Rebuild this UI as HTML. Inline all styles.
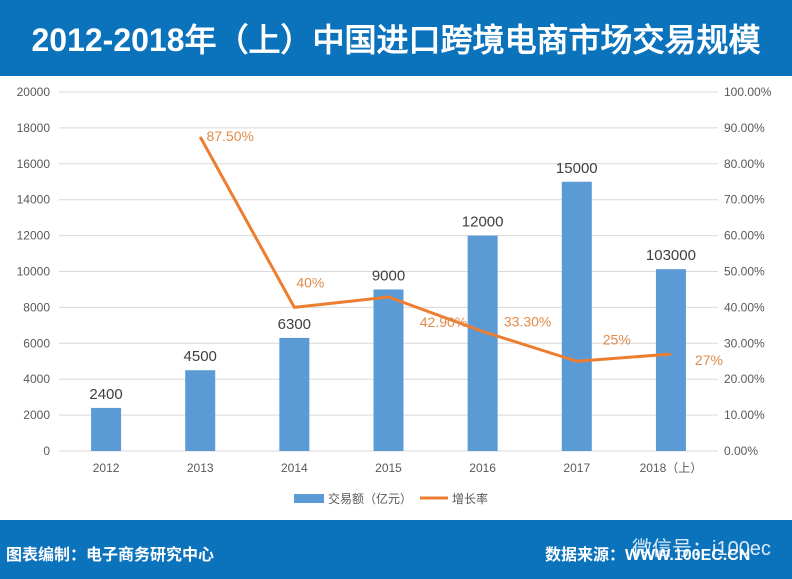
<!DOCTYPE html>
<html><head><meta charset="utf-8"><style>
body{margin:0;width:792px;height:579px;overflow:hidden;background:#fff;font-family:"Liberation Sans","Noto Sans CJK SC",sans-serif}
#hdr{position:absolute;left:0;top:0;width:792px;height:76px;background:#0b72bc}
#ttl{position:absolute;left:0;top:0;width:792px;height:80px;line-height:80px;text-align:center;color:#fff;font-weight:bold;font-size:32px;font-family:"Liberation Sans","WenQuanYi Zen Hei",sans-serif}
#ftr{position:absolute;left:0;top:520px;width:792px;height:59px;background:#0b72bc;color:#fff;font-weight:bold;font-size:16px}
</style></head><body>
<div id="hdr"></div>
<div id="ttl">2012-2018年（上）中国进口跨境电商市场交易规模</div>
<svg id="chart" width="792" height="520" style="position:absolute;left:0;top:0"></svg>
<div id="ftr">
<span style="position:absolute;left:6px;top:21px">图表编制：电子商务研究中心</span>
<span style="position:absolute;left:545px;top:21px">数据来源：WWW.100EC.CN</span>
<span style="position:absolute;left:632px;top:12px;font-weight:normal;font-size:20px;opacity:.85">微信号：i100ec</span>
</div>
<script>
const categories=["2012","2013","2014","2015","2016","2017","2018（上）"];
const amounts=[2400,4500,6300,9000,12000,15000,10130];
const amountLabels=["2400","4500","6300","9000","12000","15000","103000"];
const growth=[null,87.5,40,42.9,33.3,25,27];
const growthLabels=["","87.50%","40%","42.90%","33.30%","25%","27%"];
const leftTicks=[0,2000,4000,6000,8000,10000,12000,14000,16000,18000,20000];
const rightTicks=["0.00%","10.00%","20.00%","30.00%","40.00%","50.00%","60.00%","70.00%","80.00%","90.00%","100.00%"];
const svg=document.getElementById('chart');const NS='http://www.w3.org/2000/svg';
const x0=59,x1=718,y0=451,y1=92;
const band=(x1-x0)/categories.length;
const xc=i=>x0+band*(i+0.5);
const yL=v=>y0-(v/20000)*(y0-y1);
const yR=v=>y0-(v/100)*(y0-y1);
function mk(t,a,txt){const e=document.createElementNS(NS,t);for(const k in a)e.setAttribute(k,a[k]);if(txt!=null)e.textContent=txt;svg.appendChild(e);return e;}
leftTicks.forEach((v,i)=>{
 const g=mk('line',{x1:x0,x2:x1,y1:yL(v),y2:yL(v),stroke:'#d9d9d9','stroke-width':1});
 
 
 const t=mk('text',{x:50,y:yL(v)+4,'text-anchor':'end','font-size':12,fill:'#595959'},String(v));
 
 
 const r=mk('text',{x:724,y:yL(v)+4,'font-size':12,fill:'#595959'},rightTicks[i]);
 
 
});
categories.forEach((c,i)=>{
 const b=mk('rect',{x:xc(i)-15,y:yL(amounts[i]),width:30,height:y0-yL(amounts[i]),fill:'#5b9bd5'});
 
 
 const l=mk('text',{x:xc(i),y:yL(amounts[i])-9,'text-anchor':'middle','font-size':15,fill:'#404040'},amountLabels[i]);
 
 
 const t=mk('text',{x:xc(i),y:472,'text-anchor':'middle','font-size':12,fill:'#595959'},c);
 
 
});
let d='';growth.forEach((g,i)=>{if(g==null)return;d+=(d?'L':'M')+xc(i)+','+yR(g);});
const p=mk('path',{d:d,fill:'none',stroke:'#ed7d31','stroke-width':3,'stroke-linejoin':'round'});


const off=[null,[30,4],[16,-20],[55,30],[45,-5],[40,-17],[38,11]];
growth.forEach((g,i)=>{if(g==null)return;
 const t=mk('text',{x:xc(i)+off[i][0],y:yR(g)+off[i][1],'text-anchor':'middle','font-size':14,fill:'#e08a4a'},growthLabels[i]);
 
 
});
const lg1=mk('rect',{x:294,y:494,width:30,height:9,fill:'#5b9bd5'});


const lt1=mk('text',{x:328,y:503,'font-size':12,fill:'#595959'},'交易额（亿元）');


const lg2=mk('line',{x1:420,x2:448,y1:498,y2:498,stroke:'#ed7d31','stroke-width':3});


const lt2=mk('text',{x:452,y:503,'font-size':12,fill:'#595959'},'增长率');


</script>
</body></html>
